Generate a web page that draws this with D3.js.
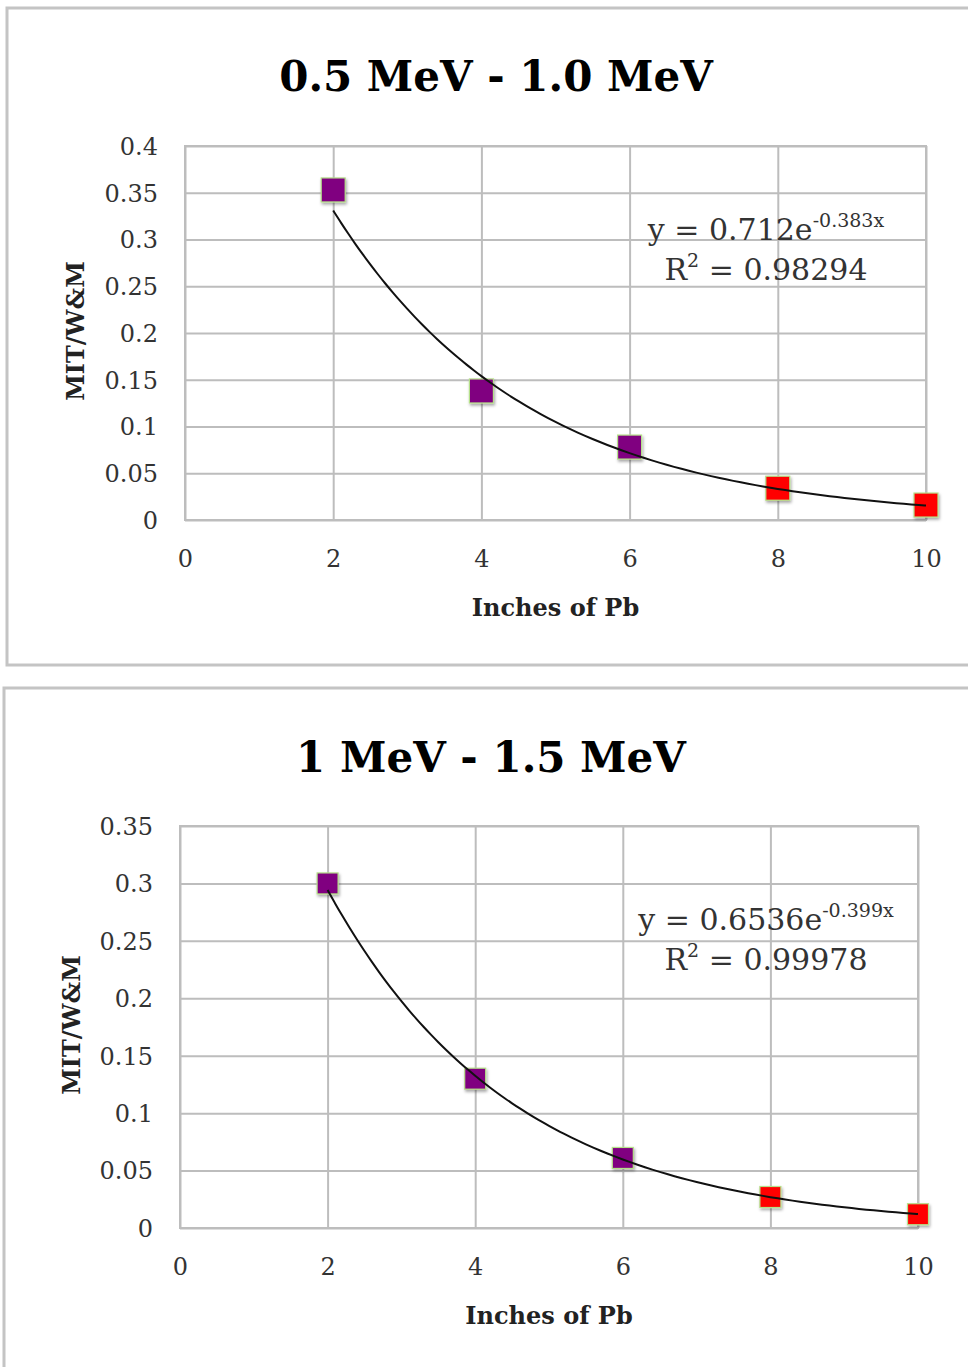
<!DOCTYPE html>
<html>
<head>
<meta charset="utf-8">
<script src="https://cdn.jsdelivr.net/npm/d3@7"></script>
<style>
  body { margin: 0; background: #fff; }
  svg { display: block; }
  .axis path { display: none; }
  .axis line { stroke: #bdbdbd; stroke-width: 2; }
  .axis text { font-family: "DejaVu Serif", serif; font-size: 24px; fill: #333; }
</style>
</head>
<body>
<script>
// data
const inches = [2, 4, 6, 8, 10];
const ratioLow = [0.353, 0.138, 0.078, 0.034, 0.016];
const ratioHigh = [0.300, 0.130, 0.061, 0.027, 0.012];
const pointColors = ['#800080', '#800080', '#800080', '#ff0000', '#ff0000'];
const xTicks = [0, 2, 4, 6, 8, 10];
const yTicksLow = [0, 0.05, 0.1, 0.15, 0.2, 0.25, 0.3, 0.35, 0.4];
const yTicksHigh = [0, 0.05, 0.1, 0.15, 0.2, 0.25, 0.3, 0.35];
const titles = ['0.5 MeV - 1.0 MeV', '1 MeV - 1.5 MeV'];
const fitA = [0.712, 0.6536];
const fitB = [-0.383, -0.399];
const fitR2 = ['0.98294', '0.99978'];

const svg = d3.select('body')
    .append('svg')
    .attr('width', 968)
    .attr('height', 1367);

const defs = svg.append('defs');
const shadow = defs.append('filter').attr('id', 'shadow')
    .attr('x', '-30%').attr('y', '-30%').attr('width', '160%').attr('height', '160%');
shadow.append('feDropShadow')
    .attr('dx', 1).attr('dy', 2).attr('stdDeviation', 1.5)
    .attr('flood-color', '#000').attr('flood-opacity', 0.35);

function drawChart(opt) {
    const g = svg.append('g');

    // outer frame
    g.append('rect')
        .attr('x', opt.frame[0]).attr('y', opt.frame[1])
        .attr('width', opt.frame[2]).attr('height', opt.frame[3])
        .attr('fill', '#fff')
        .attr('stroke', '#c4c4c4')
        .attr('stroke-width', 3);

    const x = d3.scaleLinear().domain([0, 10]).range([opt.left, opt.right]);
    const y = d3.scaleLinear().domain([0, d3.max(opt.yTicks)]).range([opt.bottom, opt.top]);

    g.append('text')
        .attr('x', opt.titleX).attr('y', opt.titleY)
        .attr('text-anchor', 'middle')
        .style('font-family', '"DejaVu Serif", serif')
        .style('font-weight', 'bold')
        .style('font-size', '42px')
        .text(opt.title);

    // grid via axes
    g.append('g')
        .attr('class', 'axis')
        .attr('transform', `translate(${opt.left},0)`)
        .call(d3.axisLeft(y)
            .tickValues(opt.yTicks)
            .tickSize(-(opt.right - opt.left))
            .tickPadding(27)
            .tickFormat(d => String(+d.toFixed(2))))
        .selectAll('text').attr('dy', '0.35em');

    g.append('g')
        .attr('class', 'axis')
        .attr('transform', `translate(0,${opt.bottom})`)
        .call(d3.axisBottom(x)
            .tickValues(xTicks)
            .tickSize(-(opt.bottom - opt.top))
            .tickPadding(30)
            .tickFormat(d3.format('d')));

    // plot frame
    g.append('rect')
        .attr('x', opt.left).attr('y', opt.top)
        .attr('width', opt.right - opt.left).attr('height', opt.bottom - opt.top)
        .attr('fill', 'none')
        .attr('stroke', '#bdbdbd')
        .attr('stroke-width', 2);

    // axis titles
    g.append('text')
        .attr('x', (opt.left + opt.right) / 2).attr('y', opt.bottom + 96)
        .attr('text-anchor', 'middle')
        .style('font-family', '"DejaVu Serif", serif')
        .style('font-weight', 'bold')
        .style('font-size', '24px')
        .attr('fill', '#222')
        .text('Inches of Pb');

    g.append('text')
        .attr('transform', `translate(${opt.yTitleX},${(opt.top + opt.bottom) / 2 - 2}) rotate(-90)`)
        .attr('text-anchor', 'middle')
        .style('font-family', '"DejaVu Serif", serif')
        .style('font-weight', 'bold')
        .style('font-size', '24px')
        .attr('fill', '#222')
        .text('MIT/W&M');

    const pts = inches.map((d, i) => ({ x: d, y: opt.values[i], c: pointColors[i] }));

    g.selectAll('rect.pt')
        .data(pts)
        .enter()
        .append('rect')
        .attr('class', 'pt')
        .attr('x', d => x(d.x) - opt.size / 2)
        .attr('y', d => y(d.y) - opt.size / 2)
        .attr('width', opt.size)
        .attr('height', opt.size)
        .attr('fill', d => d.c)
        .attr('stroke', '#b5e08a')
        .attr('stroke-width', 1.2)
        .attr('filter', 'url(#shadow)');

    // exponential trendline
    const fx = d3.range(2, 10.001, 0.1);
    const line = d3.line()
        .x(d => x(d))
        .y(d => y(opt.a * Math.exp(opt.b * d)))
        .curve(d3.curveBasis);
    g.append('path')
        .datum(fx)
        .attr('d', line)
        .attr('fill', 'none')
        .attr('stroke', '#111')
        .attr('stroke-width', 2);

    // equation
    const eq = g.append('text')
        .attr('x', opt.eqX).attr('y', opt.eqY)
        .attr('text-anchor', 'middle')
        .style('font-family', '"DejaVu Serif", serif')
        .style('font-size', '30px')
        .attr('fill', '#333');
    eq.append('tspan').text(`y = ${opt.a}e`);
    eq.append('tspan').attr('dy', -13).style('font-size', '19px').text(`${opt.b}x`);

    const r2 = g.append('text')
        .attr('x', opt.eqX).attr('y', opt.eqY + 40)
        .attr('text-anchor', 'middle')
        .style('font-family', '"DejaVu Serif", serif')
        .style('font-size', '30px')
        .attr('fill', '#333');
    r2.append('tspan').text('R');
    r2.append('tspan').attr('dy', -13).style('font-size', '19px').text('2');
    r2.append('tspan').attr('dy', 13).text(` = ${opt.r2}`);
}

drawChart({
    frame: [7, 8, 975, 657],
    left: 185, right: 926, top: 146, bottom: 520,
    yTicks: yTicksLow, values: ratioLow,
    title: titles[0], titleX: 496, titleY: 91,
    yTitleX: 84, size: 24,
    a: fitA[0], b: fitB[0], r2: fitR2[0], eqX: 766, eqY: 240
});

drawChart({
    frame: [4, 688, 980, 700],
    left: 180, right: 918, top: 826, bottom: 1228,
    yTicks: yTicksHigh, values: ratioHigh,
    title: titles[1], titleX: 491, titleY: 772,
    yTitleX: 80, size: 21,
    a: fitA[1], b: fitB[1], r2: fitR2[1], eqX: 766, eqY: 930
});
</script>
</body>
</html>
